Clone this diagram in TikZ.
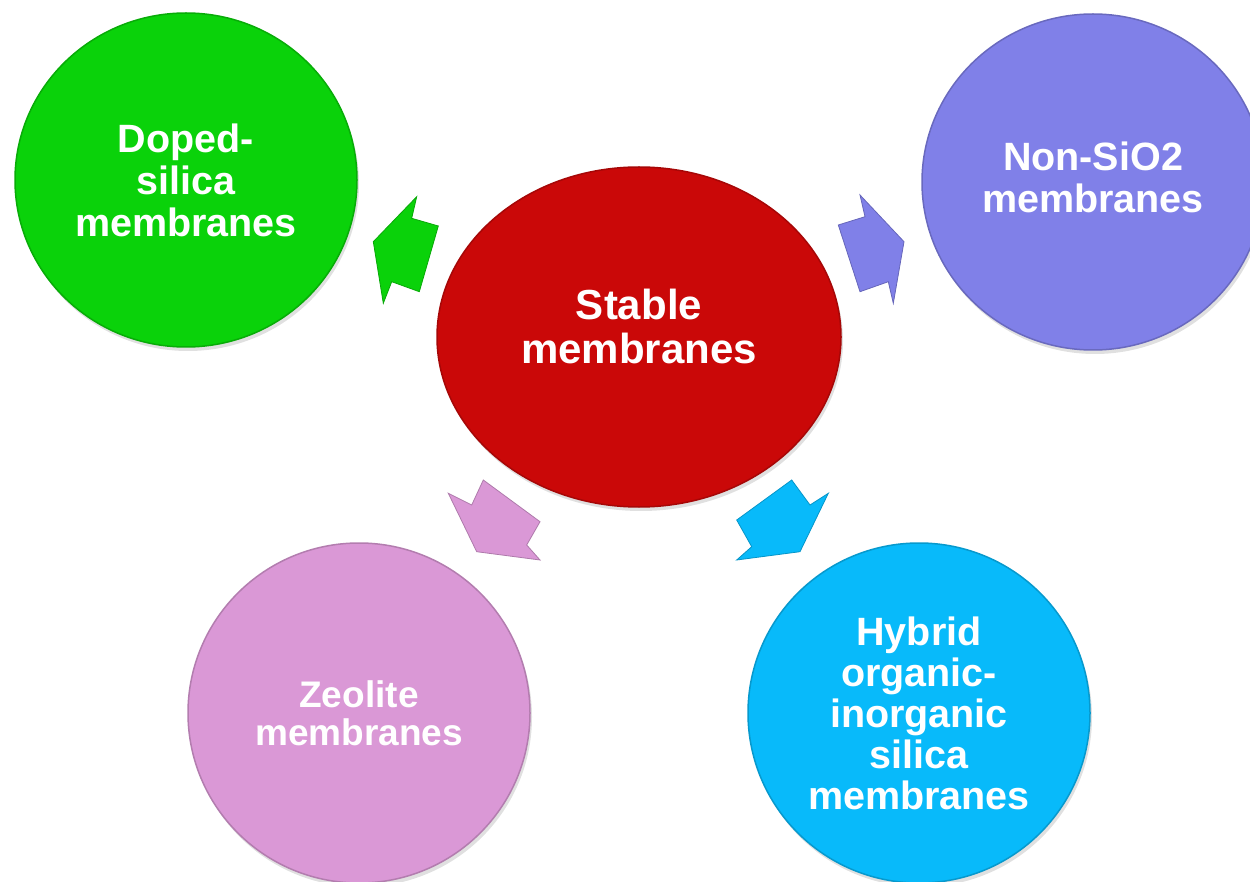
\documentclass[tikz,border=0pt]{standalone}
\usepackage{fontspec}
\setmainfont{Liberation Sans}
\usetikzlibrary{shapes.geometric}
\definecolor{cgreen}{HTML}{0AD20A}
\definecolor{cred}{HTML}{CA0808}
\definecolor{cpurple}{HTML}{8080E8}
\definecolor{cpink}{HTML}{DA98D6}
\definecolor{ccyan}{HTML}{08BAFA}
\begin{document}
\begin{tikzpicture}[x=1pt,y=-1pt,
  bubble/.style={ellipse, inner sep=0pt, fill=#1, draw=#1!82!black, line width=1.5pt,
    text=white, align=center, font=\bfseries\fontsize{39.5}{42}\selectfont},
  shadowbub/.style={ellipse, inner sep=0pt, fill=black!12, draw=none},
  blockarrow/.style={fill=#1, draw=#1!80!black, line width=0.8pt, line join=miter}]
\useasboundingbox (0,0) rectangle (1250,882);
\clip (0,0) rectangle (1250,882);

% soft shadows
\node[shadowbub, minimum width=404pt, minimum height=340pt] at (641,341) {};
\node[shadowbub, minimum width=342pt, minimum height=334pt] at (188,184) {};
\node[shadowbub, minimum width=342pt, minimum height=336pt] at (1095,186) {};
\node[shadowbub, minimum width=342pt, minimum height=340pt] at (361,717) {};
\node[shadowbub, minimum width=342pt, minimum height=340pt] at (921,717) {};

% circles
\node[bubble=cred, minimum width=404pt, minimum height=340pt,
      font=\bfseries\fontsize{42}{44}\selectfont] (stable) at (639,337) {Stable\\membranes\\[-22pt]};
\node[bubble=cgreen, minimum width=342pt, minimum height=334pt] (doped) at (186,180) {Doped-\\silica\\membranes};
\node[bubble=cpurple, minimum width=342pt, minimum height=336pt] (nonsio) at (1093,182) {Non-SiO2\\membranes\\[-32pt]};
\node[bubble=cpink, minimum width=342pt, minimum height=340pt,
      font=\bfseries\fontsize{37}{38}\selectfont] (zeolite) at (359,713) {Zeolite\\membranes};
\node[bubble=ccyan, minimum width=342pt, minimum height=340pt,
      font=\bfseries\fontsize{39.5}{41}\selectfont] (hybrid) at (919,713) {Hybrid\\organic-\\inorganic\\silica\\membranes};

% block arrows
\draw[blockarrow=cgreen] (373.3,241.7) -- (416.7,196.7) -- (411.7,218.3) -- (438.3,226)
  -- (419.3,291.7) -- (391.7,281.7) -- (383.3,303.3) -- cycle;
\draw[blockarrow=cpurple] (860,195) -- (865,216.7) -- (838.3,225) -- (860,291.7)
  -- (888.3,281.7) -- (893.3,303.3) -- (904,241.7) -- cycle;
\draw[blockarrow=cpink] (483.3,480) -- (540,521.7) -- (526.7,545) -- (540,560)
  -- (476.7,551.7) -- (448.3,493.3) -- (471.7,505) -- cycle;
\draw[blockarrow=ccyan] (791.7,480) -- (736.7,520) -- (751.7,546.7) -- (736.7,560)
  -- (800,551.7) -- (828.3,493.3) -- (810,505) -- cycle;
\end{tikzpicture}
\end{document}
